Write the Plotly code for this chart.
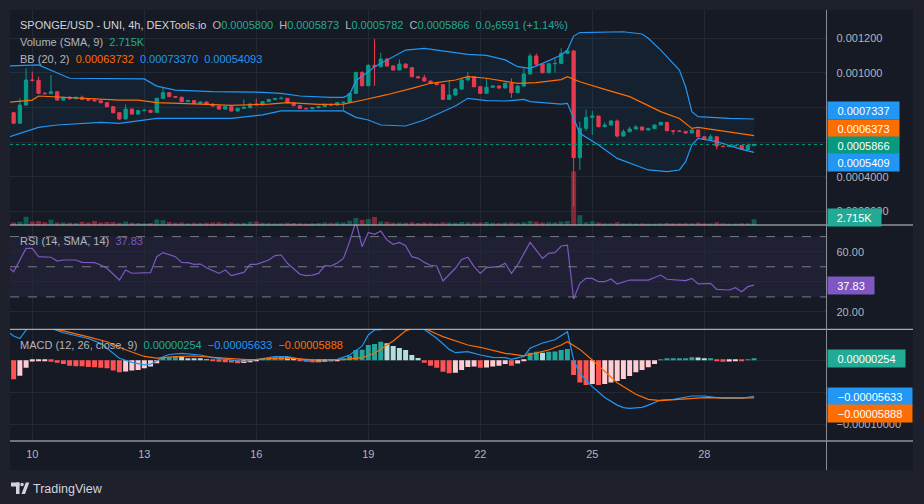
import plotly.graph_objects as go
from datetime import datetime, timedelta

W, H = 924, 504
BASE = datetime(2023, 6, 10)       # bar index 0 = day "10", 00:00
FIRST_K = -3                        # first visible 4h bar index
U = 1e-6                            # price / MACD values below are in millionths of USD

# ---------------- data ----------------
close_u = [
    709, 814, 959, 957, 882, 880, 891, 843, 859, 851,
    859, 847, 843, 839, 828, 805, 770, 734, 791, 762,
    782, 784, 772, 853, 886, 863, 859, 834, 840, 824,
    832, 820, 809, 791, 805, 780, 795, 799, 820, 816,
    834, 847, 851, 853, 828, 811, 795, 793, 799, 805,
    818, 814, 828, 830, 882, 1003, 926, 1044, 1036, 1080,
    1040, 1017, 1051, 1030, 978, 972, 953, 940, 932, 847,
    872, 907, 959, 978, 920, 882, 917, 924, 913, 940,
    886, 924, 994, 1098, 1050, 1001, 1053, 1055, 1113, 1127,
    510, 680, 743, 751, 689, 699, 722, 635, 660, 676,
    687, 670, 678, 699, 714, 666, 664, 662, 653, 670,
    631, 616, 631, 577, 574, 579, 581, 558, 580, 586.6]
first_open_u = 770
high_u = [
    775, 853, 1026, 1007, 978, 890, 988, 893, 862, 866,
    864, 869, 853, 855, 840, 830, 807, 772, 818, 795,
    787, 790, 787, 857, 915, 888, 866, 862, 845, 842,
    836, 835, 822, 811, 808, 808, 799, 847, 824, 851,
    837, 850, 856, 864, 856, 831, 812, 797, 802, 808,
    822, 820, 832, 834, 884, 1006, 1010, 1050, 1196, 1117,
    1085, 1044, 1078, 1055, 1034, 980, 990, 956, 944, 936,
    958, 911, 963, 1005, 980, 922, 970, 928, 928, 944,
    968, 928, 1027, 1113, 1113, 1055, 1057, 1083, 1142, 1142,
    1130, 718, 789, 780, 752, 714, 726, 731, 674, 689,
    698, 689, 683, 702, 718, 716, 668, 668, 664, 673,
    672, 633, 645, 634, 578, 581, 584, 582, 592, 587.3]
low_u = [
    705, 705, 810, 950, 878, 876, 878, 840, 840, 846,
    849, 843, 838, 835, 824, 801, 766, 728, 730, 758,
    760, 778, 769, 770, 850, 860, 856, 831, 832, 821,
    822, 817, 806, 788, 789, 777, 777, 793, 796, 813,
    812, 831, 845, 849, 825, 808, 792, 790, 791, 797,
    803, 811, 811, 786, 826, 878, 922, 923, 925, 1032,
    1036, 1013, 1014, 1026, 975, 968, 950, 936, 928, 843,
    845, 870, 904, 956, 917, 878, 879, 915, 906, 910,
    855, 882, 920, 990, 1046, 998, 998, 1001, 1051, 1108,
    227, 439, 665, 641, 686, 686, 695, 627, 632, 657,
    673, 666, 668, 676, 697, 663, 643, 659, 648, 650,
    628, 613, 613, 558, 570, 572, 577, 555, 556, 578.2]
volume_k = [
    1.2, 1.5, 3.8, 1.6, 1.9, 1.3, 2.4, 1.1, 1.2, 1.0,
    0.9, 1.5, 1.2, 1.9, 1.1, 1.4, 1.3, 1.0, 1.6, 1.0,
    0.9, 0.8, 0.9, 2.6, 2.2, 1.4, 1.0, 1.1, 0.8, 1.0,
    0.9, 1.0, 1.1, 1.3, 0.9, 1.2, 0.8, 1.0, 1.5, 1.6,
    1.0, 0.9, 0.8, 0.8, 1.0, 0.9, 0.8, 0.7, 0.8, 0.9,
    1.2, 1.0, 1.3, 1.2, 2.0, 3.2, 2.4, 2.8, 3.7, 1.6,
    1.5, 1.0, 1.2, 1.0, 1.3, 0.9, 1.1, 1.0, 0.8, 1.3,
    1.2, 1.0, 1.4, 1.1, 1.2, 1.1, 1.4, 1.0, 0.9, 1.1,
    1.2, 1.0, 1.3, 1.9, 1.5, 1.2, 1.3, 1.1, 1.6, 1.8,
    24.9, 4.5, 1.3, 1.7, 1.2, 0.8, 0.8, 1.3, 0.8, 0.8,
    0.7, 0.8, 0.7, 0.7, 0.8, 0.9, 0.8, 0.8, 0.8, 0.8,
    1.2, 0.8, 0.8, 1.3, 0.8, 0.7, 0.7, 0.8, 0.8, 2.715]

# Bollinger Bands (20, 2) read at sample bars
bbu_k = [-4, 1, 6, 18, 20, 23, 29, 37, 40, 43, 48, 50, 51, 52, 54, 55, 57, 60, 63, 66,
         70, 73, 76, 78, 80, 82, 85, 86, 87, 88, 95, 98, 99, 101, 104, 105, 106, 107, 112, 116]
bbu_u = [1040, 1046, 969, 965, 924, 901, 891.5, 888, 882, 866.5, 859, 859, 875, 955, 1007, 1036, 1075, 1132, 1142, 1128,
         1107, 1101.5, 1075, 1036, 1026, 1055, 1103.5, 1132, 1213, 1233, 1238, 1225, 1200, 1132, 1017, 920, 776, 747, 737, 733.7]
bbm_k = [-4, 0, 1, 3, 8, 14, 17, 20, 27, 32, 38, 41, 46, 50, 53, 56, 57, 61, 64, 68,
         70, 73, 76, 78, 81, 85, 86, 88, 92, 96, 98, 101, 104, 106, 107, 110, 116]
bbm_u = [830, 843, 866.5, 862.6, 851, 843, 843, 828, 820, 812.5, 820, 828, 818, 820, 842, 866, 874, 911, 940, 959,
         978, 969, 949, 940, 943.5, 961, 978, 949, 905, 862.6, 828, 776, 737, 679.5, 685, 670, 637.3]
bbl_k = [-4, 0, 1, 4, 11, 14, 18, 20, 32, 37, 40, 46, 50, 52, 54, 56, 60, 63, 66, 68,
         70, 73, 76, 79, 80, 83, 85, 86, 87, 88, 91, 94, 99, 102, 104, 105, 106, 107, 110, 114, 116]
bbl_u = [627.5, 670, 685, 699, 714, 708.5, 728, 737, 737, 757, 780, 782, 780, 743, 728, 699, 693, 728, 776, 809,
         853, 839.5, 837.5, 847, 834, 828, 820, 824, 737, 651, 583, 506, 439, 429, 439, 487, 583, 622, 602.5, 558, 540.9]

# RSI (14)
rsi_k = [-4, -3, -1, 0, 1, 3, 4, 5, 7, 8, 10, 11, 12, 14, 15, 16, 19, 20, 21, 23,
         24, 25, 26, 27, 28, 30, 31, 32, 34, 35, 36, 38, 39, 40, 41, 43, 44, 45, 46, 47,
         48, 49, 50, 51, 52, 53, 54, 55, 56, 57, 58, 59, 60, 61, 62, 63, 64, 65, 66, 67,
         68, 69, 70, 71, 72, 73, 75, 76, 77, 78, 80, 82, 83, 84, 85, 86, 87, 88, 89, 90,
         91, 92, 93, 94, 96, 99, 101, 102, 105, 106, 107, 109, 110, 112, 113, 114, 115, 116]
rsi_v = [50.1, 46.7, 62.2, 62.2, 56.7, 56.3, 53.8, 54.5, 54.5, 52.9, 52.7, 51.2, 49, 41.2, 47.9, 45.7, 46.1, 56.7, 59.4, 56.7,
         52.9, 52.7, 51.6, 51.8, 49.4, 45.6, 47.9, 44.1, 46.3, 51.6, 51.6, 54.5, 57.4, 57.8, 52.3, 45, 44.1, 44.5, 45.6, 50.7,
         50.5, 52.5, 55.5, 66.7, 80, 63.3, 72.8, 71.5, 73.7, 67.8, 64.9, 66.2, 64, 56.7, 55.6, 52.9, 51, 50.5, 40.6, 44.8,
         49, 54.9, 56.3, 50.1, 45.6, 49.4, 50.1, 52.3, 45.6, 51.2, 66.2, 55.6, 58.9, 59.4, 63.8, 64.4, 28.6, 39, 42.3, 42.3,
         40.1, 40.1, 41.9, 38.6, 41.2, 41.2, 44.5, 41.7, 40.8, 42.3, 38.6, 39, 35, 34.6, 36.1, 33.5, 36.8, 37.83]

# MACD (12, 26, 9), millionths
hist_u = [
    -29.7, -24, -11.5, -2, -1.6, -1, -2.1, -3.7, -5.8, -8.4,
    -9.4, -9.5, -10.5, -10.7, -11.5, -12.5, -16.1, -18.8, -17.7, -16.1,
    -15.1, -12.5, -9.9, -4.7, 4.1, 4.7, 5.2, 5.0, 3.1, 2.1,
    2.0, 1.0, -1.0, -2.1, -3.1, -3.6, -4.7, -4.2, -3.1, -1.0,
    2.1, 3.1, 4.7, 5.2, 4.7, 2.1, -1.0, -2.1, -3.1, -3.0,
    -2.1, -1.0, -0.3, 3.0, 6.7, 16.1, 16.3, 23.9, 25.5, 29.1,
    26.5, 22.4, 19.2, 16.1, 8.3, 3.6, -3.7, -8.4, -11.5, -17.8,
    -20.4, -19.3, -15.2, -10.5, -9.9, -11.5, -11.3, -9.9, -8.4, -5.8,
    -8.4, -5.2, -1.6, 11.9, 13.5, 11.9, 13.5, 13.6, 16.1, 17.7,
    -22.9, -34.9, -38.6, -37, -38.6, -37, -34.9, -32.3, -29.2, -24.5,
    -18.8, -15.2, -11, -5.8, 1, 2.1, 3.1, 3.2, 3.3, 4.6,
    4.4, 3.1, 3.3, -1, -2.1, -2.0, -0.5, -1, 1.5, 2.54]
macd_k = [-4, -3, -2, -1, 0, 1, 2, 3, 5, 9, 11, 13, 14, 16, 18, 19, 20, 21, 22,
          24, 27, 29, 32, 34, 37, 39, 41, 43, 45, 47, 49, 51,
          53, 54, 55, 56, 57, 58, 59, 60, 61, 62, 63,
          65, 67, 68, 70, 72, 74, 76, 77, 79, 80,
          82, 84, 85, 86, 87, 88, 90, 92, 94, 95, 96,
          98, 99, 101, 103, 106, 108, 111, 114, 116]
macd_u = [45, 38, 34, 47, 57, 57, 55, 50, 43, 34, 26.5, 10.9, 3.1, -3.2, -7.3, -6, -1, 5.5, 9,
          10.9, 8.3, 4.1, 0.5, -2, 2.5, 5.7, 5.7, 1.5, -2.1, -1.1, 1.5, 8.3,
          22, 39.5, 47.3, 48, 51, 55, 59, 62, 59, 56, 48,
          34.3, 17, 11.9, 13.5, 8.3, 4.6, 4.1, 1.5, 6, 18.7,
          27, 32, 38, 44.7, 0.5, -20.4, -41.2, -58, -70, -74, -75,
          -73.5, -70, -62, -61, -55.8, -55.8, -59.4, -59.4, -56.33]
sig_k = [-4, -3, -2, -1, 0, 1, 2, 3, 4, 5, 9, 12, 15, 18, 20, 23, 26, 29, 32, 35,
         39, 42, 45, 48, 50, 53, 55, 57, 58, 60, 61, 62, 63, 64, 65, 66, 68, 70, 72, 74,
         76, 79, 81, 83, 85, 86, 87, 88, 90, 92, 94, 97, 99, 101, 103, 108, 116]
sig_u = [70, 67, 62, 60, 59, 58.5, 56, 51, 48, 46, 36.5, 29, 16.5, 6, 3.5, 5.7, 6.7, 4.6, 2.1, 0.5,
         3.1, 3.1, 0.5, 1.5, 1, 4, 11, 24, 30, 46, 50, 53, 50, 45, 41, 37, 30, 23.9, 20.3, 15.1,
         10.9, 7, 11, 16.1, 23.9, 29.1, 23, 17, 0.5, -18, -35, -53, -61, -63, -62, -58.4, -58.88]

day_ticks = [10, 13, 16, 19, 22, 25, 28]
price_ticks_u = [200, 400, 600, 800, 1000, 1200]
# labels at 0.0006 / 0.0008 sit fully behind the value badges in the reference
price_tick_text = ["0.0002000", "0.0004000", "", "", "0.001000", "0.001200"]
rsi_ticks = [20, 40, 60]
rsi_tick_text = ["20.00", "", "60.00"]
macd_ticks_u = [0, -50, -100]
macd_tick_text = ["", "\u22120.00005000", "\u22120.00010000"]

# ---------------- helpers ----------------
def t(k):
    return BASE + timedelta(hours=4 * k)

def px(x):
    return x / W

def py(y):
    return 1 - y / H

BG_OUT = "#1e212b"
BG_IN = "#161a25"
GRID = "#242833"
TXT = "#b2b5be"
GREEN = "#089981"
RED = "#f23645"
TEAL = "#22ab94"
ORANGE = "#ff6d00"
BLUE = "#2196f3"
PURPLE = "#7e57c2"
FONT = "Liberation Sans, Arial, sans-serif"
SEP = "#c9ccd4"

n = len(close_u)
ks = list(range(FIRST_K, FIRST_K + n))
times = [t(k) for k in ks]
open_u = [first_open_u] + close_u[:-1]
o = [v * U for v in open_u]
c = [v * U for v in close_u]
h = [v * U for v in high_u]
l = [v * U for v in low_u]
BAR_W = 4 * 3600 * 1000 * 0.8

fig = go.Figure()

# Bollinger bands
fig.add_trace(go.Scatter(x=[t(k) for k in bbu_k], y=[v * U for v in bbu_u], mode="lines",
                         line=dict(color=BLUE, width=1.2), xaxis="x", yaxis="y"))
fig.add_trace(go.Scatter(x=[t(k) for k in bbl_k], y=[v * U for v in bbl_u], mode="lines",
                         line=dict(color=BLUE, width=1.2), fill="tonexty",
                         fillcolor="rgba(33,150,243,0.06)", xaxis="x", yaxis="y"))
fig.add_trace(go.Scatter(x=[t(k) for k in bbm_k], y=[v * U for v in bbm_u], mode="lines",
                         line=dict(color=ORANGE, width=1.2), xaxis="x", yaxis="y"))

# candles
fig.add_trace(go.Candlestick(
    x=times, open=o, high=h, low=l, close=c, xaxis="x", yaxis="y", whiskerwidth=0,
    increasing=dict(line=dict(color=GREEN, width=1), fillcolor=GREEN),
    decreasing=dict(line=dict(color=RED, width=1), fillcolor=RED)))

# volume overlay
vol_colors = ["rgba(8,153,129,0.5)" if cc >= oo else "rgba(242,54,69,0.5)" for oo, cc in zip(o, c)]
fig.add_trace(go.Bar(x=times, y=volume_k, marker=dict(color=vol_colors, line=dict(width=0)),
                     width=BAR_W, xaxis="x", yaxis="y4"))

# RSI
fig.add_trace(go.Scatter(x=[t(k) for k in rsi_k], y=rsi_v, mode="lines",
                         line=dict(color=PURPLE, width=1.2), xaxis="x2", yaxis="y2"))

# MACD histogram
hist_colors = []
prev = None
for v in hist_u:
    if v >= 0:
        hist_colors.append("#26a69a" if (prev is None or v > prev) else "#b2dfdb")
    else:
        hist_colors.append("#ffcdd2" if (prev is not None and v > prev) else "#ff5252")
    prev = v
fig.add_trace(go.Bar(x=times, y=[v * U for v in hist_u], marker=dict(color=hist_colors, line=dict(width=0)),
                     width=BAR_W, xaxis="x3", yaxis="y3"))
fig.add_trace(go.Scatter(x=[t(k) for k in macd_k], y=[v * U for v in macd_u], mode="lines",
                         line=dict(color=BLUE, width=1.2), xaxis="x3", yaxis="y3"))
fig.add_trace(go.Scatter(x=[t(k) for k in sig_k], y=[v * U for v in sig_u], mode="lines",
                         line=dict(color=ORANGE, width=1.2), xaxis="x3", yaxis="y3"))

# ---------------- layout ----------------
XD = [px(10), px(826.5)]
xr = [t(-3.584), t(127.64)]
tickdates = [datetime(BASE.year, BASE.month, d) for d in day_ticks]

def xax(show):
    return dict(domain=XD, range=xr, type="date", showgrid=True, gridcolor=GRID, gridwidth=1,
                tickvals=tickdates, ticktext=[str(d) for d in day_ticks], showticklabels=show,
                ticks="", zeroline=False, showline=False, fixedrange=True,
                tickfont=dict(family=FONT, size=11, color=TXT), ticklabelstandoff=5)

def yax(dom, rng, tv, tt):
    return dict(domain=dom, range=rng, side="right", showgrid=True, gridcolor=GRID, gridwidth=1,
                tickvals=tv, ticktext=tt, ticks="", zeroline=False, showline=False,
                tickfont=dict(family=FONT, size=11, color=TXT), ticklabelstandoff=9)

fig.update_layout(
    width=W, height=H, margin=dict(l=0, r=0, t=0, b=0),
    paper_bgcolor=BG_OUT, plot_bgcolor="rgba(0,0,0,0)",
    showlegend=False, hovermode=False, boxgap=0.25, bargap=0.15,
    font=dict(family=FONT, size=11, color=TXT),
    xaxis=dict(xax(False), rangeslider=dict(visible=False)),
    xaxis2=dict(xax(False), matches="x"),
    xaxis3=dict(xax(True), matches="x"),
    yaxis=yax([py(225), py(10)], [0.0001209, 0.0013636],
              [v * U for v in price_ticks_u], price_tick_text),
    yaxis2=dict(yax([py(329.3), py(225)], [8.52, 77.71], rsi_ticks, rsi_tick_text), anchor="x2"),
    yaxis3=dict(yax([py(441), py(329.3)], [-126.1e-6, 48.4e-6], [v * U for v in macd_ticks_u],
                    macd_tick_text), anchor="x3"),
    yaxis4=dict(domain=[py(225), py(10)], range=[0, 99.5], overlaying="y", visible=False),
)
fig.layout.yaxis.anchor = "x"
fig.layout.xaxis2.anchor = "y2"
fig.layout.xaxis3.anchor = "y3"

shapes = [
    dict(type="rect", xref="paper", yref="paper", x0=px(10), x1=px(913), y0=py(470), y1=py(10),
         fillcolor=BG_IN, line=dict(width=0), layer="below"),
    dict(type="rect", xref="x2 domain", yref="y2", x0=0, x1=1, y0=30, y1=70,
         fillcolor="rgba(126,87,194,0.10)", line=dict(width=0), layer="below"),
]
for lv in (70, 50, 30):
    shapes.append(dict(type="line", xref="x2 domain", yref="y2", x0=0, x1=1, y0=lv, y1=lv,
                       line=dict(color="#787b86", width=1, dash="dash")))
shapes.append(dict(type="line", xref="x domain", yref="y", x0=0, x1=1, y0=c[-1], y1=c[-1],
                   line=dict(color=GREEN, width=1, dash="dot")))
for yy in (225, 329.3, 441):
    shapes.append(dict(type="line", xref="paper", yref="paper", x0=px(10), x1=px(913), y0=py(yy), y1=py(yy),
                       line=dict(color=SEP, width=1)))
shapes.append(dict(type="line", xref="paper", yref="paper", x0=px(826.5), x1=px(826.5), y0=py(470), y1=py(10),
                   line=dict(color="#8a8d96", width=1)))
# TradingView logo mark
LOGO = "#d1d4dc"
shapes += [
    dict(type="rect", xref="paper", yref="paper", x0=px(11), x1=px(19.5), y0=py(486.5), y1=py(482.5),
         fillcolor=LOGO, line=dict(width=0)),
    dict(type="rect", xref="paper", yref="paper", x0=px(16), x1=px(19.5), y0=py(494), y1=py(482.5),
         fillcolor=LOGO, line=dict(width=0)),
    dict(type="circle", xref="paper", yref="paper", x0=px(20.3), x1=px(23.8), y0=py(486.3), y1=py(482.8),
         fillcolor=LOGO, line=dict(width=0)),
    dict(type="path", xref="paper", yref="paper",
         path=f"M {px(21.5)} {py(494)} L {px(25.8)} {py(482.5)} L {px(29.3)} {py(482.5)} L {px(25)} {py(494)} Z",
         fillcolor=LOGO, line=dict(width=0)),
]
fig.update_layout(shapes=shapes)

def span(col, s):
    return f"<span style='color:{col}'>{s}</span>"

sp = "\u00a0\u00a0"
ann = []
def legend(y, text):
    ann.append(dict(xref="paper", yref="paper", x=px(18), y=py(y), xanchor="left", yanchor="middle",
                    text=text, showarrow=False, font=dict(family=FONT, size=11, color=TXT)))

fmt7 = lambda v: f"{v * U:.7f}"
legend(25, span("#d1d4dc", "SPONGE/USD - UNI, 4h, DEXTools.io") + sp +
       "O" + span(TEAL, fmt7(open_u[-1])) + sp + "H" + span(TEAL, fmt7(high_u[-1])) + sp +
       "L" + span(TEAL, fmt7(low_u[-1])) + sp + "C" + span(TEAL, fmt7(close_u[-1])) + sp +
       span(TEAL, "0.0\u20856591 (+1.14%)"))
legend(42, "Volume (SMA, 9)" + sp + span(TEAL, f"{volume_k[-1]:.3f}K"))
legend(59, "BB (20, 2)" + sp + span(ORANGE, "0.00063732") + sp + span(BLUE, "0.00073370") + sp +
       span(BLUE, "0.00054093"))
legend(240.7, "RSI (14, SMA, 14)" + sp + span(PURPLE, f"{rsi_v[-1]:.2f}"))
mfmt = lambda v: f"{v * U:.8f}".replace("-", "\u2212")
legend(345, "MACD (12, 26, close, 9)" + sp + span(TEAL, mfmt(hist_u[-1])) + sp +
       span(BLUE, mfmt(macd_u[-1])) + sp + span(ORANGE, mfmt(sig_u[-1])))

def badge(text, yval, yref, col, width, yshift=0):
    ann.append(dict(xref="paper", yref=yref, x=px(826.7), y=yval, xanchor="left", yanchor="middle",
                    text=text, showarrow=False, bgcolor=col, width=width, height=13, borderpad=2,
                    align="center", valign="middle", yshift=yshift,
                    font=dict(family=FONT, size=11, color="#ffffff")))

badge(fmt7(bbu_u[-1]), bbu_u[-1] * U, "y", BLUE, 67, 8.3)
badge(fmt7(bbm_u[-1]), bbm_u[-1] * U, "y", ORANGE, 67, 7.6)
badge(fmt7(close_u[-1]), close_u[-1] * U, "y", GREEN, 67, -1.1)
badge(fmt7(bbl_u[-1]), bbl_u[-1] * U, "y", BLUE, 67, -10.4)
badge(f"{volume_k[-1]:.3f}K", volume_k[-1], "y4", TEAL, 49, 1.8)
badge(f"{rsi_v[-1]:.2f}", rsi_v[-1], "y2", PURPLE, 42)
badge(mfmt(hist_u[-1]), hist_u[-1] * U, "y3", TEAL, 73)
badge(mfmt(macd_u[-1]), macd_u[-1] * U, "y3", BLUE, 80)
badge(mfmt(sig_u[-1]), sig_u[-1] * U, "y3", ORANGE, 80, -15.3)

ann.append(dict(xref="paper", yref="paper", x=px(31), y=py(488.5), xanchor="left", yanchor="middle",
                text="TradingView", showarrow=False, font=dict(family=FONT, size=12.5, color=LOGO)))
fig.update_layout(annotations=ann)

fig.write_html("out.html")
